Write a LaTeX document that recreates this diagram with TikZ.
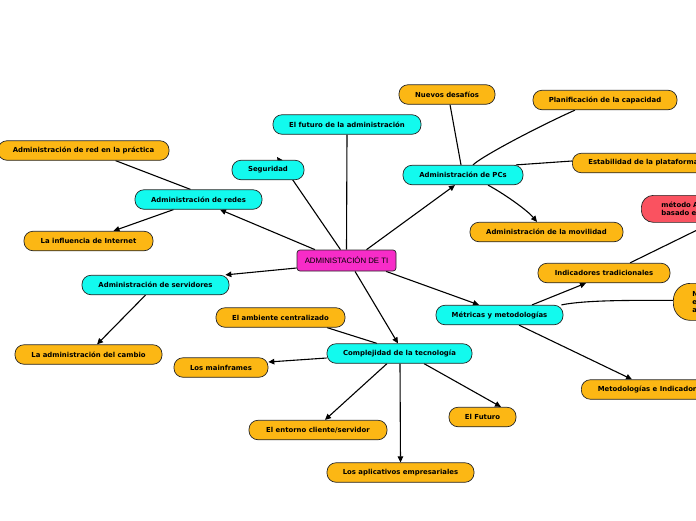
\documentclass[tikz,border=0pt]{standalone}
\usepackage{fontspec}
\setmainfont{DejaVu Sans}
\newfontfamily\centerfont{Liberation Sans}
\usetikzlibrary{backgrounds,arrows.meta}
\definecolor{orng}{RGB}{252,183,20}
\definecolor{cyan1}{RGB}{18,250,238}
\definecolor{mag1}{RGB}{247,44,200}
\definecolor{red1}{RGB}{250,82,96}
\begin{document}
\begin{tikzpicture}[x=1pt,y=-1pt,
 bx/.style={draw=black!85, line width=0.7pt, rounded corners=9pt, minimum height=19.5pt, inner sep=0pt, font=\fontsize{6.9}{8.5}\selectfont\bfseries, text=black},
 org/.style={bx, fill=orng},
 cyn/.style={bx, fill=cyan1},
 rdn/.style={bx, fill=red1},
 mag/.style={draw=black!85, line width=0.7pt, rounded corners=3pt, fill=mag1, inner sep=0pt, font=\centerfont\fontsize{7.8}{9}\selectfont},
 con/.style={line width=1.1pt, draw=black},
 arr/.style={con, -{Triangle[length=6pt,width=5.5pt]}}
]
\useasboundingbox (0,0) rectangle (696,520);

\node[mag, minimum width=99pt, minimum height=21pt] (c) at (346.5,260.5) {ADMINISTACIÓN DE TI};
\node[cyn, minimum width=120pt] (pcs) at (463,175) {Administración de PCs};
\node[cyn, minimum width=148pt] (fut) at (347,124.5) {El futuro de la administración};
\node[cyn, minimum width=72pt] (seg) at (268,170) {Seguridad};
\node[cyn, minimum width=127pt] (redes) at (198.5,199.5) {Administración de redes};
\node[org, minimum width=171pt] (redprac) at (83.5,150.5) {Administración de red en la práctica};
\node[org, minimum width=129pt] (inet) at (88.5,241) {La influencia de Internet};
\node[cyn, minimum width=147pt] (serv) at (155.5,285) {Administración de servidores};
\node[org, minimum width=147pt] (cambio) at (88.5,354.5) {La administración del cambio};
\node[org, minimum width=129pt] (amb) at (280.5,317.5) {El ambiente centralizado};
\node[cyn, minimum width=145pt] (comp) at (399.5,353.5) {Complejidad de la tecnología};
\node[org, minimum width=94pt] (mainf) at (221,367.5) {Los mainframes};
\node[org, minimum width=138pt] (ent) at (318,430) {El entorno cliente/servidor};
\node[org, minimum width=147pt] (apl) at (400.5,472.5) {Los aplicativos empresariales};
\node[org, minimum width=67pt] (futuro) at (482.5,417) {El Futuro};
\node[cyn, minimum width=127pt] (met) at (499.5,315) {Métricas y metodologías};
\node[org, minimum width=132pt] (ind) at (604,273) {Indicadores tradicionales};
\node[rdn, anchor=north west, minimum height=27pt, rounded corners=12pt, text width=80pt, inner xsep=20pt, align=left] (meta) at (641,195) {método A\\basado e};
\node[org, anchor=north west, minimum height=37pt, rounded corners=17pt, text width=30pt, inner xsep=19pt, align=left, font=\fontsize{6.9}{8}\selectfont\bfseries] (nea) at (673,283) {N\\e\\a};
\node[org, anchor=west, inner xsep=16pt] (estab) at (572,163) {Estabilidad de la plataforma};
\node[org, anchor=west, inner xsep=16.5pt] (metind) at (581,389.5) {Metodologías e Indicadores};
\node[org, minimum width=96pt] (nuevos) at (447,94.5) {Nuevos desafíos};
\node[org, minimum width=144pt] (plan) at (605,100) {Planificación de la capacidad};
\node[org, minimum width=153pt] (mov) at (546.5,232) {Administración de la movilidad};

\begin{pgfonlayer}{background}
\fill[white] (0,0) rectangle (696,520);
\draw[arr] ([xshift=20pt]c.north) -- ([xshift=-8pt]pcs.south);
\draw[con] (c.north) -- (fut.south);
\draw[arr] ([xshift=-6pt]c.north) -- ([xshift=9pt,yshift=3pt]seg.north);
\draw[arr] ([xshift=-31.5pt]c.north) -- ([xshift=21.5pt]redes.south);
\draw[con] ([xshift=-8pt]redes.north) -- ([xshift=32pt]redprac.south);
\draw[arr] ([xshift=-25pt]redes.south) -- ([xshift=25pt]inet.north);
\draw[arr] ([yshift=-7.5pt]c.west) -- ([xshift=-4pt]serv.north east);
\draw[arr] ([xshift=-10pt]serv.south) -- ([xshift=8.5pt]cambio.north);
\draw[arr] ([xshift=8.5pt]c.south) -- ([xshift=-1.5pt]comp.north);
\draw[con] ([xshift=-22.5pt]comp.north) -- ([xshift=46.5pt]amb.south);
\draw[arr] ([yshift=-4.5pt]comp.west) -- ([yshift=5.5pt]mainf.east);
\draw[arr] ([xshift=-12.5pt]comp.south) -- ([xshift=7pt]ent.north);
\draw[arr] ([xshift=0.5pt]comp.south) -- (apl.north);
\draw[arr] ([xshift=24.5pt]comp.south) -- ([xshift=18.5pt]futuro.north);
\draw[arr] ([xshift=39.5pt]c.south) -- ([xshift=-20.5pt]met.north);
\draw[arr] ([xshift=32.5pt]met.north) -- ([xshift=-18pt]ind.south);
\draw[con] ([xshift=-2pt]met.north east) .. controls +(25,-5) and +(-40,0) .. ([yshift=1.5pt]nea.west);
\draw[arr] ([xshift=19.5pt]met.south) -- ([xshift=51pt]metind.north west);
\draw[con] ([xshift=26pt]ind.north) -- ([xshift=71pt]meta.south west);
\draw[con] ([xshift=-2pt]pcs.north) -- ([xshift=3pt]nuevos.south);
\draw[con] ([xshift=10pt]pcs.north) .. controls +(8,-8) and +(-40,18) .. ([xshift=-30pt]plan.south);
\draw[con] ([xshift=53pt]pcs.north) -- ([yshift=2pt]estab.west);
\draw[arr] ([xshift=25pt]pcs.south) .. controls +(15,8) and +(-10,-12) .. ([xshift=-9.5pt]mov.north);
\end{pgfonlayer}
\end{tikzpicture}
\end{document}
